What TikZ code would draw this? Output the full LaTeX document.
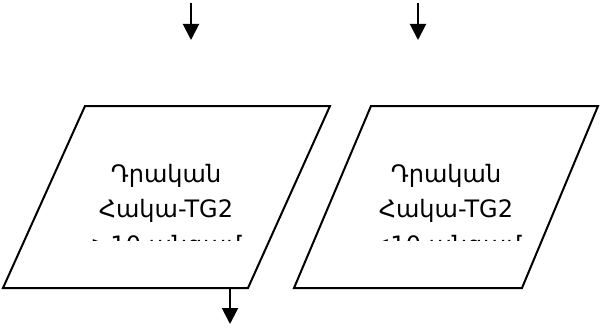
\documentclass[tikz,border=0pt]{standalone}
\usepackage{fontspec}
\newfontfamily\armfont{DejaVu Sans}
\usetikzlibrary{arrows.meta}
\tikzset{
  shapeline/.style={draw=black, line width=2pt, line join=miter},
  flow/.style={draw=black, line width=2pt, -{Triangle[length=16pt,width=16pt]}},
  label/.style={font=\armfont\fontsize{24}{28}\selectfont, inner sep=0pt, anchor=base}
}
\begin{document}
\begin{tikzpicture}[x=1pt,y=-1pt]
\useasboundingbox (0,0) rectangle (600,329);
% parallelograms
\coordinate (L1) at (85,106); \coordinate (L2) at (330,106);
\coordinate (L3) at (248,288); \coordinate (L4) at (3,288);
\coordinate (R1) at (371,106); \coordinate (R2) at (598,106);
\coordinate (R3) at (522,288); \coordinate (R4) at (294,288);
\draw[shapeline] (L1) -- (L2) -- (L3) -- (L4) -- cycle;
\draw[shapeline] (R1) -- (R2) -- (R3) -- (R4) -- cycle;
% texts (clipped like the original)
\begin{scope}
\clip (0,150) rectangle (600,240);
\node[label] (lt1) at (166,182) {Դրական};
\node[label] (lt2) at (166,217) {Հակա-TG2};
\node[label] (lt3) at (166,253) {>10 անգամ};
\node[label] (rt1) at (446,182) {Դրական};
\node[label] (rt2) at (446,217) {Հակա-TG2};
\node[label] (rt3) at (446,253) {<10 անգամ};
\end{scope}
% arrows
\coordinate (a1s) at (191,3); \coordinate (a1e) at (191,40);
\coordinate (a2s) at (418,3); \coordinate (a2e) at (418,40);
\coordinate (lb) at (230,288); \coordinate (lbe) at (230,324);
\draw[flow] (a1s) -- (a1e);
\draw[flow] (a2s) -- (a2e);
\draw[flow] (lb) -- (lbe);
\end{tikzpicture}
\end{document}
